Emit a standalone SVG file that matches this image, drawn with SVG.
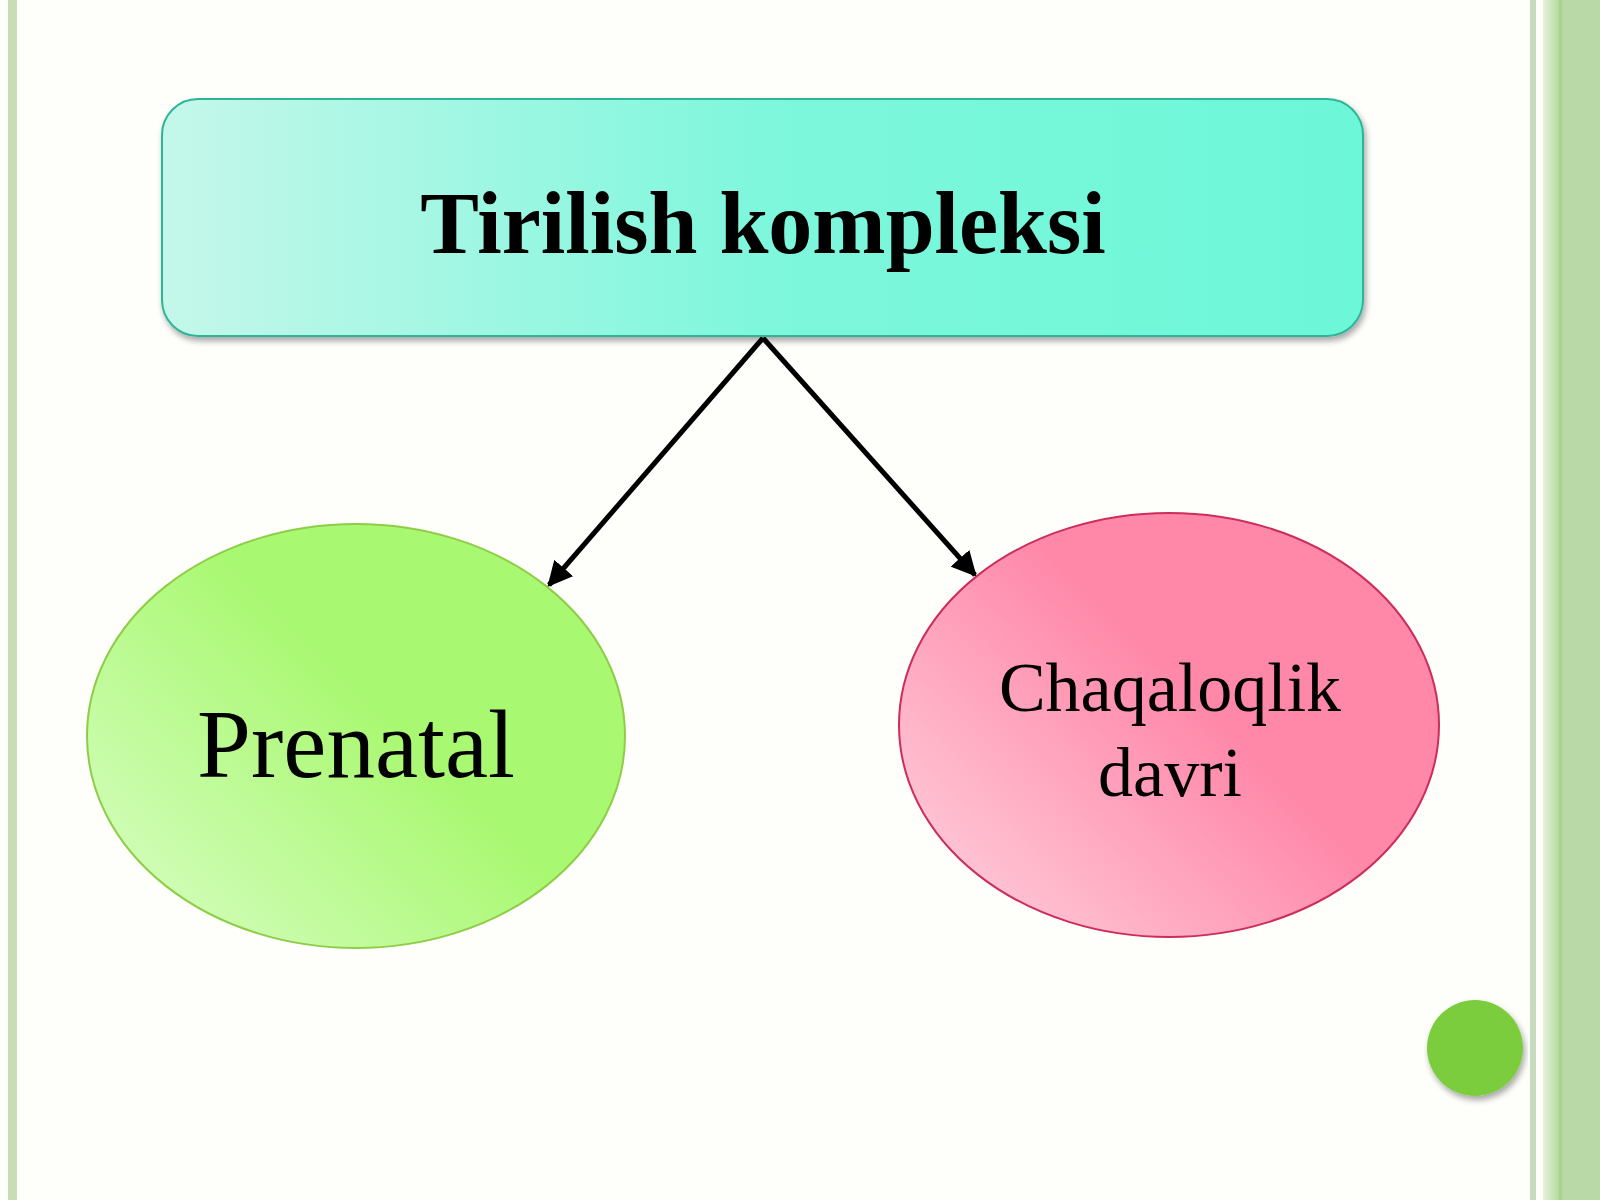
<svg xmlns="http://www.w3.org/2000/svg" width="1600" height="1200" viewBox="0 0 1600 1200">
  <defs>
    <linearGradient id="gRect" x1="0" y1="0" x2="1" y2="0">
      <stop offset="0" stop-color="#c4f7ea"/>
      <stop offset="0.5" stop-color="#7ef7dc"/>
      <stop offset="1" stop-color="#6cf7d8"/>
    </linearGradient>
    <linearGradient id="gGreen" x1="0.1" y1="0.9" x2="0.6" y2="0.5">
      <stop offset="0" stop-color="#d2fdba"/>
      <stop offset="1" stop-color="#a9f871"/>
    </linearGradient>
    <linearGradient id="gPink" x1="0.1" y1="0.9" x2="0.6" y2="0.5">
      <stop offset="0" stop-color="#ffc8d6"/>
      <stop offset="1" stop-color="#ff88a9"/>
    </linearGradient>
    <linearGradient id="gBand" x1="0" y1="0" x2="1" y2="0">
      <stop offset="0" stop-color="#e6f3dc"/>
      <stop offset="1" stop-color="#b2d99c"/>
    </linearGradient>
    <filter id="sh" x="-5%" y="-10%" width="110%" height="125%">
      <feGaussianBlur in="SourceAlpha" stdDeviation="3"/>
      <feOffset dx="2" dy="4" result="b"/>
      <feComponentTransfer><feFuncA type="linear" slope="0.35"/></feComponentTransfer>
      <feMerge><feMergeNode/><feMergeNode in="SourceGraphic"/></feMerge>
    </filter>
    <marker id="arr" viewBox="0 0 10 10" refX="9" refY="5" markerWidth="5" markerHeight="5" orient="auto" markerUnits="strokeWidth">
      <path d="M0,0 L10,5 L0,10 z" fill="#000"/>
    </marker>
    <style>
      .lbl { font-family: "Liberation Serif", "Times New Roman", serif; fill: #000; text-anchor: middle; }
      .conn { stroke: #000; stroke-width: 5; fill: none; marker-end: url(#arr); }
    </style>
  </defs>

  <!-- background and frame -->
  <rect x="0" y="0" width="1600" height="1200" fill="#fefefb"/>
  <rect x="8" y="0" width="9" height="1200" fill="#c8ddb5"/>
  <rect x="1530" y="0" width="6" height="1200" fill="#c6dcbd"/>
  <rect x="1543" y="0" width="17" height="1200" fill="url(#gBand)"/>
  <rect x="1559" y="0" width="3" height="1200" fill="#a8d48e"/>
  <rect x="1562" y="0" width="38" height="1200" fill="#b9d9a6"/>
  <circle cx="1475" cy="1048" r="48" fill="#7ccd3c" filter="url(#sh)"/>

  <!-- connectors -->
  <g id="connectors">
    <line class="conn" x1="763" y1="338" x2="549" y2="585"/>
    <line class="conn" x1="763" y1="338" x2="975" y2="575"/>
  </g>

  <g id="node-tirilish">
    <rect x="162" y="99" width="1201" height="237" rx="36" ry="36" fill="url(#gRect)" stroke="#2eb597" stroke-width="2" filter="url(#sh)"/>
    <text class="lbl" x="763" y="253" font-size="88" font-weight="bold">Tirilish kompleksi</text>
  </g>

  <g id="node-prenatal">
    <ellipse cx="356" cy="736" rx="269" ry="212" fill="url(#gGreen)" stroke="#8fcd48" stroke-width="2"/>
    <text class="lbl" x="356" y="777" font-size="97">Prenatal</text>
  </g>

  <g id="node-chaqaloqlik">
    <ellipse cx="1169" cy="725" rx="270" ry="212" fill="url(#gPink)" stroke="#cc2d5c" stroke-width="2"/>
    <text class="lbl" x="1170" y="711" font-size="70">Chaqaloqlik</text>
    <text class="lbl" x="1170" y="796" font-size="70">davri</text>
  </g>
</svg>
